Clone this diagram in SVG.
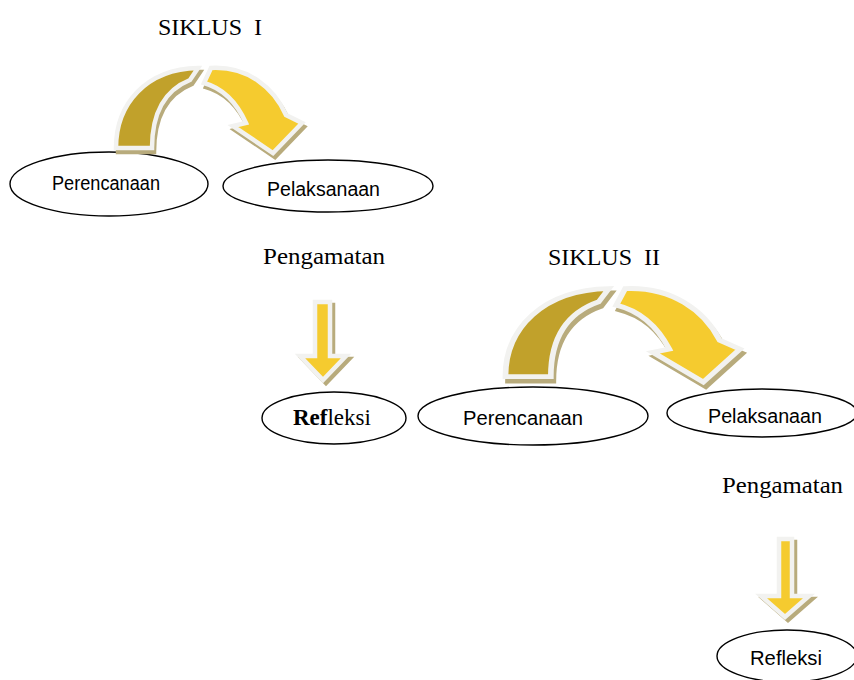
<svg xmlns="http://www.w3.org/2000/svg" width="854" height="680" viewBox="0 0 854 680">
<style>
.bg{fill:#ffffff}
.node{fill:#ffffff;stroke:#000000;stroke-width:1.4}
.serif{font-family:"Liberation Serif","Times New Roman",serif;fill:#000000;white-space:pre}
.sans{font-family:"Liberation Sans",Arial,sans-serif;font-size:20px;fill:#000000}
.shadow{fill:#B8AB7C;stroke:#B8AB7C;stroke-width:4.5;stroke-linejoin:miter}
.gold{fill:#C1A12B;stroke:#F2F2F0;stroke-width:4.5;stroke-linejoin:miter}
.yellow{fill:#F5CB2F;stroke:#F2F2F0;stroke-width:4.5;stroke-linejoin:miter}
</style>
<defs>
<path id="goldpiece" d="M116,148 C116,104 146,69 198,68 L190,80 C165,90 152,112 152,148 Z"/>
<path id="yellowpiece" d="M211,68 C248,66 274,88 286,115 L302,123 L273,153 L233,126 L246,123 C236,101 222,88 204,83 Z"/>
<g id="curved">
<g transform="translate(2,4)">
<use href="#goldpiece" class="shadow" vector-effect="non-scaling-stroke"/>
<use href="#yellowpiece" class="shadow" vector-effect="non-scaling-stroke"/>
</g>
<use href="#goldpiece" class="gold" vector-effect="non-scaling-stroke"/>
<use href="#yellowpiece" class="yellow" vector-effect="non-scaling-stroke"/>
</g>
</defs>
<rect class="bg" x="0" y="0" width="854" height="680"/>

<g id="siklus1-title"><text class="serif" x="158" y="35" font-size="24">SIKLUS  I</text></g>
<g id="perencanaan1"><ellipse class="node" cx="109" cy="184" rx="99" ry="32"/><text class="sans" x="52" y="190" textLength="108" lengthAdjust="spacingAndGlyphs">Perencanaan</text></g>
<g id="pelaksanaan1"><ellipse class="node" cx="328" cy="186" rx="105" ry="26"/><text class="sans" x="267" y="196" textLength="113" lengthAdjust="spacingAndGlyphs">Pelaksanaan</text></g>
<g id="pengamatan1"><text class="serif" x="263" y="264" font-size="24" textLength="122" lengthAdjust="spacingAndGlyphs">Pengamatan</text></g>
<g id="refleksi1"><ellipse class="node" cx="334" cy="418" rx="72" ry="26"/><text class="serif" x="293" y="425" font-size="23"><tspan font-weight="bold">Ref</tspan>leksi</text></g>

<g id="siklus2-title"><text class="serif" x="548" y="265" font-size="24">SIKLUS  II</text></g>
<g id="perencanaan2"><ellipse class="node" cx="533" cy="416" rx="115" ry="29"/><text class="sans" x="463" y="425" textLength="120" lengthAdjust="spacingAndGlyphs">Perencanaan</text></g>
<g id="pelaksanaan2"><ellipse class="node" cx="762" cy="413" rx="95" ry="24"/><text class="sans" x="708" y="423" textLength="114" lengthAdjust="spacingAndGlyphs">Pelaksanaan</text></g>
<g id="pengamatan2"><text class="serif" x="722" y="493" font-size="24" textLength="121" lengthAdjust="spacingAndGlyphs">Pengamatan</text></g>
<g id="refleksi2"><ellipse class="node" cx="787" cy="656" rx="70" ry="26"/><text class="sans" x="750" y="665" textLength="72" lengthAdjust="spacingAndGlyphs">Refleksi</text></g>

<g id="connectors">
<use href="#curved"/>
<use href="#curved" transform="translate(359.3,213.8) scale(1.26,1.1)"/>
<g id="down1">
<path class="shadow" transform="translate(3,3)" d="M315,302 L330,302 L330,356 L346,356 L323,380 L300,356 L315,356 Z"/>
<path class="yellow" d="M315,302 L330,302 L330,356 L346,356 L323,380 L300,356 L315,356 Z"/>
</g>
<g id="down2">
<path class="shadow" transform="translate(3,3)" d="M779,539 L792,539 L792,596 L809,596 L785,617 L761,596 L779,596 Z"/>
<path class="yellow" d="M779,539 L792,539 L792,596 L809,596 L785,617 L761,596 L779,596 Z"/>
</g>
</g>
</svg>
